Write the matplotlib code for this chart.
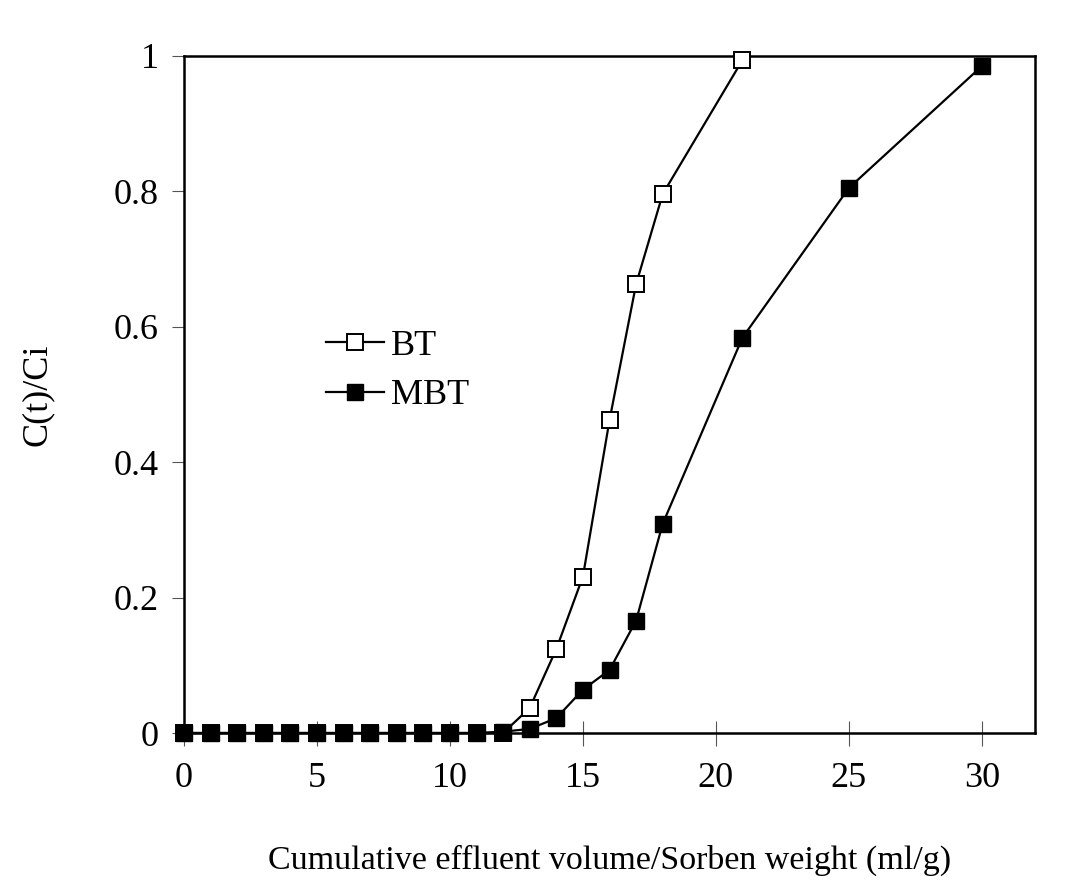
import matplotlib
matplotlib.use("Agg")
import matplotlib.pyplot as plt

bt_x = [0, 1, 2, 3, 4, 5, 6, 7, 8, 9, 10, 11, 12, 13, 14, 15, 16, 17, 18, 21]
bt_y = [0, 0, 0, 0, 0, 0, 0, 0, 0, 0, 0, 0, 0, 0.037, 0.124, 0.231, 0.462, 0.663, 0.796, 0.994]
mbt_x = [0, 1, 2, 3, 4, 5, 6, 7, 8, 9, 10, 11, 12, 13, 14, 15, 16, 17, 18, 21, 25, 30]
mbt_y = [0, 0, 0, 0, 0, 0, 0, 0, 0, 0, 0, 0, 0.002, 0.006, 0.022, 0.064, 0.093, 0.166, 0.309, 0.584, 0.805, 0.985]

x_ticks = [0, 5, 10, 15, 20, 25, 30]
y_ticks = [0, 0.2, 0.4, 0.6, 0.8, 1]
y_tick_labels = ["0", "0.2", "0.4", "0.6", "0.8", "1"]

plt.rcParams['font.family'] = ['Liberation Serif', 'DejaVu Serif']

fig = plt.figure(figsize=(10.85, 8.88), dpi=100)
ax = fig.add_axes([184/1085, 1-733/888, (1035-184)/1085, (733-56)/888])

ax.plot(bt_x, bt_y, color='black', lw=1.6, marker='s', markersize=11,
        markerfacecolor='white', markeredgecolor='black', markeredgewidth=1.4,
        clip_on=False, zorder=3, label='BT')
ax.plot(mbt_x, mbt_y, color='black', lw=1.6, marker='s', markersize=12,
        markerfacecolor='black', markeredgecolor='black',
        clip_on=False, zorder=4, label='MBT')

ax.set_xlim(0, 32)
ax.set_ylim(0, 1)
ax.set_xticks(x_ticks)
ax.set_yticks(y_ticks)
ax.set_yticklabels(y_tick_labels)
for s in ax.spines.values():
    s.set_linewidth(1.8)
ax.tick_params(axis='x', direction='inout', length=18, width=0.8, color='#555555',
               labelsize=26, pad=12)
ax.tick_params(axis='y', direction='out', length=9, width=0.8, color='#555555',
               labelsize=26, pad=9)

ax.set_xlabel('Cumulative effluent volume/Sorben weight (ml/g)', fontsize=24.5, labelpad=36)
ax.set_ylabel('C(t)/Ci', fontsize=26, labelpad=43)

leg = ax.legend(loc='center left', bbox_to_anchor=(0.167, 0.535), frameon=False,
                fontsize=26, handlelength=1.6, handletextpad=0.2, labelspacing=0.45,
                borderaxespad=0, borderpad=0)

fig.savefig('out.png', dpi=100)
